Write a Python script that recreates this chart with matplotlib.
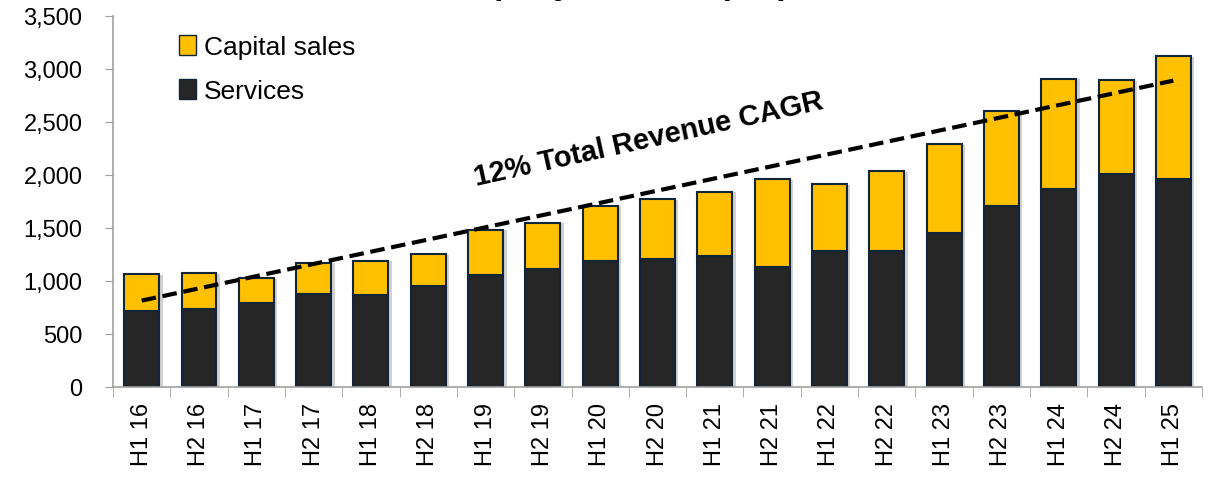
import numpy as np
import matplotlib
matplotlib.use("Agg")
import matplotlib.pyplot as plt
import matplotlib.patheffects as pe
from matplotlib.patches import Patch

# Data ($m)
periods = ["H1 16", "H2 16", "H1 17", "H2 17", "H1 18", "H2 18", "H1 19", "H2 19",
           "H1 20", "H2 20", "H1 21", "H2 21", "H1 22", "H2 22", "H1 23", "H2 23",
           "H1 24", "H2 24", "H1 25"]
services = [720, 736, 789, 877, 868, 953, 1053, 1113, 1190, 1208, 1233, 1129,
            1280, 1283, 1453, 1708, 1871, 2009, 1959]
totals = [1066, 1075, 1025, 1173, 1192, 1255, 1484, 1550, 1710, 1774, 1843, 1959,
          1915, 2035, 2290, 2604, 2909, 2893, 3123]
capital_sales = [t - s for t, s in zip(totals, services)]

trend_start = 815
trend_end = 2890

plt.rcParams['font.family'] = ['Liberation Sans', 'DejaVu Sans']

fig = plt.figure(figsize=(12.10, 4.85), dpi=100)
ax = fig.add_axes([0.0934, 0.2, 0.90, 0.765])

x = np.arange(len(periods))
shadow = [pe.SimplePatchShadow(offset=(2.5, -0.5), shadow_rgbFace='#999999', alpha=0.45), pe.Normal()]

ax.bar(x, services, width=0.61, color='#262626', edgecolor='#10243a', linewidth=1.5,
       path_effects=shadow, zorder=2)
ax.bar(x, capital_sales, bottom=services, width=0.61, color='#FFC000', edgecolor='#10243a',
       linewidth=1.5, path_effects=shadow, zorder=2)

# trend line
ax.plot([x[0], x[-1]], [trend_start, trend_end], color='black', lw=3, ls=(0, (3.5, 1.6)), zorder=3)
ax.text(8.85, 2340, "12% Total Revenue CAGR", fontsize=21, fontweight='bold',
        rotation=12.5, ha='center', va='center', rotation_mode='anchor')

ax.set_xlim(-0.5, len(periods) - 0.5)
ax.set_ylim(0, 3500)
ax.set_yticks(range(0, 3501, 500))
ax.set_yticklabels([f"{v:,}" for v in range(0, 3501, 500)], fontsize=17)
ax.set_xticks(x)
ax.set_xticklabels(periods, rotation=90, fontsize=17)
ax.set_xticks(np.arange(-0.5, len(periods), 1), minor=True)
ax.tick_params(axis='x', which='major', length=0, pad=11)
ax.tick_params(axis='x', which='minor', length=7, color='#a0a0a0', direction='out')
ax.tick_params(axis='y', length=6, color='#a0a0a0', pad=16)

for side in ['top', 'right']:
    ax.spines[side].set_visible(False)
for side in ['left', 'bottom']:
    ax.spines[side].set_color('#a0a0a0')
    ax.spines[side].set_linewidth(1.2)

handles = [Patch(facecolor='#FFC000', edgecolor='#10243a', label='Capital sales'),
           Patch(facecolor='#262626', edgecolor='#10243a', label='Services')]
ax.legend(handles=handles, loc='upper left', bbox_to_anchor=(0.039, 1.013), frameon=False,
          fontsize=19, handlelength=0.65, handleheight=0.8, handletextpad=0.3, labelspacing=0.75)

# title (cut off at top in the source image)
fig.text(0.5, 1.03, "Company revenue ($m)", fontsize=24, fontweight='bold', ha='center', va='center')

fig.savefig("out.png", dpi=100)
